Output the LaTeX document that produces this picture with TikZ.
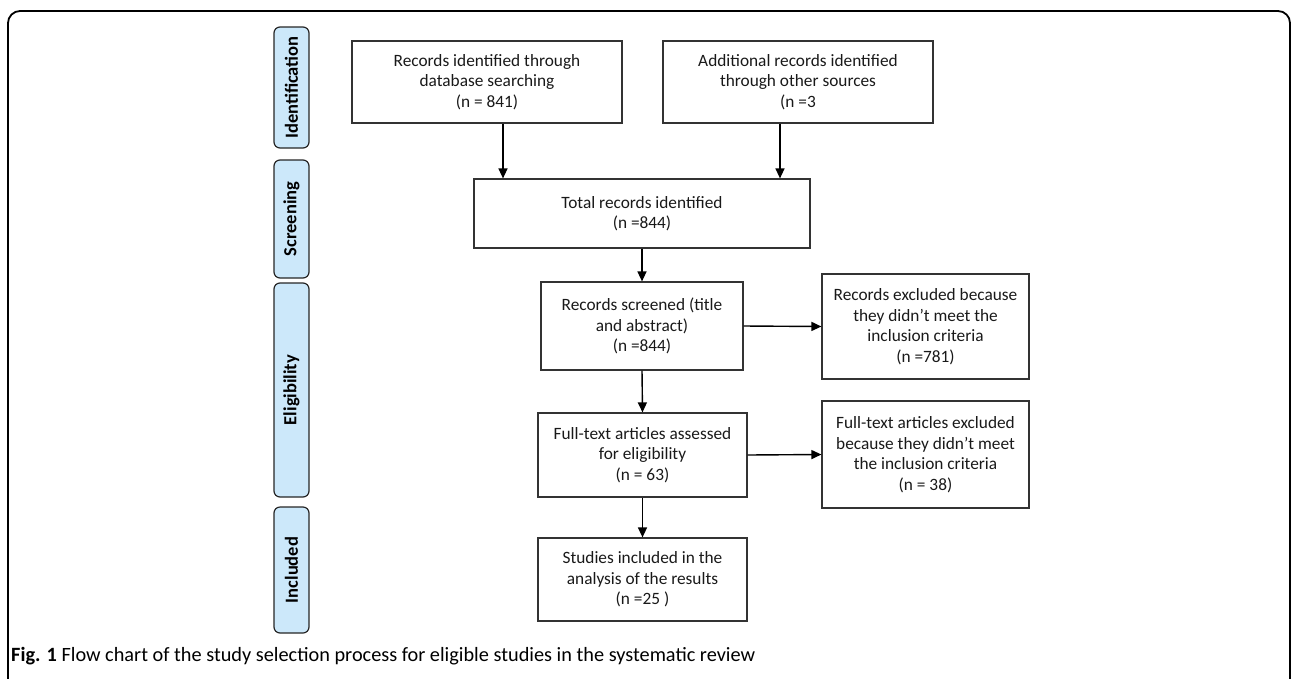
\documentclass[tikz,border=0pt]{standalone}
\usepackage{fontspec}
\setmainfont{Carlito}
\usetikzlibrary{arrows.meta}
\definecolor{tabblue}{RGB}{204,232,250}

\tikzset{
  box/.style={draw=black!80, line width=1.2pt, align=center, inner sep=0pt,
    text=black!90, font=\fontsize{17.3}{20.5}\selectfont},
  phase/.style={draw=black!85, fill=tabblue, rounded corners=6pt, line width=1.2pt,
    rotate=90, inner sep=0pt, minimum height=35pt,
    font=\fontsize{18.5}{20}\selectfont\bfseries},
  arr/.style={-{Triangle[length=10pt,width=9pt]}, line width=1.4pt},
}

\begin{document}
\begin{tikzpicture}[x=1pt, y=-1pt]
			%%%%% FRAME %%%%%
			\useasboundingbox (0,0) rectangle (1292,678);
			\draw[line width=1.8pt, rounded corners=12pt] (8,700) -- (8,11) -- (1290,11) -- (1290,700);
			
			%%%%% PHASES %%%%%
			\node[phase, minimum width=121pt] (ident) at (291.5, 87.5) {Identification};
			\node[phase, minimum width=118pt] (screen) at (291.5, 219) {Screening};
			\node[phase, minimum width=214pt] (elig) at (291.5, 390) {Eligibility};
			\node[phase, minimum width=126pt] (incl) at (291.5, 570) {Included};
			
			%%%%% BOXES %%%%%
			\node[box, minimum width=270pt, minimum height=82pt] (dbrec) at (487, 82)
			  {Records identified through\\database searching\\(n = 841)};
			\node[box, minimum width=270pt, minimum height=82pt] (othrec) at (798, 82)
			  {Additional records identified\\through other sources\\(n =3};
			\node[box, minimum width=336pt, minimum height=69pt] (total) at (642, 213.5)
			  {Total records identified\\(n =844)};
			\node[box, minimum width=202pt, minimum height=88pt] (screened) at (642, 326)
			  {Records screened (title\\and abstract)\\(n =844)};
			\node[box, minimum width=207pt, minimum height=105pt] (exclone) at (925.5, 326.5)
			  {Records excluded because\\they didn’t meet the\\inclusion criteria\\(n =781)};
			\node[box, minimum width=209pt, minimum height=84pt] (fulltext) at (642.5, 455)
			  {Full-text articles assessed\\for eligibility\\(n = 63)};
			\node[box, minimum width=207pt, minimum height=107pt] (excltwo) at (925.5, 454.5)
			  {Full-text articles excluded\\because they didn’t meet\\the inclusion criteria\\(n = 38)};
			\node[box, minimum width=209pt, minimum height=83pt] (studies) at (642.5, 579.5)
			  {Studies included in the\\analysis of the results\\(n =25 )};
			
			%%%%% ARROWS %%%%%
			\draw[arr] ([xshift=16]dbrec.south) -- ([xshift=16]dbrec.south |- total.north);
			\draw[arr] ([xshift=-18]othrec.south) -- ([xshift=-18]othrec.south |- total.north);
			\draw[arr] (total.south) -- (screened.north);
			\draw[arr] (screened.east) -- (exclone.west);
			\draw[arr] (screened.south) -- (fulltext.north);
			\draw[arr] (fulltext.east) -- (excltwo.west);
			\draw[arr] (fulltext.south) -- (studies.north);
			
			%%%%% CAPTION %%%%%
			\node[anchor=base west, inner sep=0pt, font=\fontsize{20.3}{22}\selectfont] (caption) at (11, 661)
			  {\textbf{Fig. 1} Flow chart of the study selection process for eligible studies in the systematic review};
		\end{tikzpicture}
\end{document}
